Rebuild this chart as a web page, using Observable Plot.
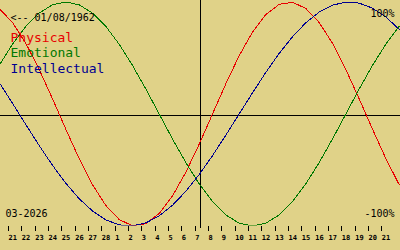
<!DOCTYPE html>
<html><head><meta charset="utf-8">
<script src="https://cdn.jsdelivr.net/npm/d3@7"></script>
<script src="https://cdn.jsdelivr.net/npm/@observablehq/plot@0.6"></script>
<style>html,body{margin:0;padding:0;background:#e0d288;}</style>
</head><body><div id="chart"></div>
<script>
// Days shown (Feb 20 .. Mar 22); the outer two only bleed past the frame edges
const dayLabels = ["20","21","22","23","24","25","26","27","28","1","2","3","4","5","6","7","8","9","10","11","12","13","14","15","16","17","18","19","20","21","22"];
const physical = [94.2,81.7,63.1,39.8,13.6,-13.6,-39.8,-63.1,-81.7,-94.2,-99.8,-97.9,-88.8,-73.1,-52.0,-27.0,0,27.0,52.0,73.1,88.8,97.9,99.8,94.2,81.7,63.1,39.8,13.6,-13.6,-39.8,-63.1];
const emotional = [43.4,62.3,78.2,90.1,97.5,100,97.5,90.1,78.2,62.3,43.4,22.3,0,-22.3,-43.4,-62.3,-78.2,-90.1,-97.5,-100,-97.5,-90.1,-78.2,-62.3,-43.4,-22.3,0,22.3,43.4,62.3,78.2];
const intellectual = [28.2,9.5,-9.5,-28.2,-45.8,-61.8,-75.6,-86.6,-94.5,-99.0,-99.9,-97.2,-91.0,-81.5,-69.0,-54.1,-37.2,-18.9,0,18.9,37.2,54.1,69.0,81.5,91.0,97.2,99.9,99.0,94.5,86.6,75.6];
const seriesNames = ["Physical","Emotional","Intellectual"];
const todayLabel = "7";
const birthText = "<-- 01/08/1962";
const monthText = "03-2026";
const topText = "100%";
const bottomText = "-100%";

const colors = {Physical:"#e80000", Emotional:"#007800", Intellectual:"#000090"};
const seriesValues = [physical, emotional, intellectual];
const rows = [];
seriesNames.forEach((name, s) => seriesValues[s].forEach((v, k) => rows.push({series: name, k, v})));
const tickIdx = dayLabels.map((d, k) => k).slice(1, dayLabels.length - 1);
const todayIdx = dayLabels.indexOf(todayLabel, 9);
const mono = "DejaVu Sans Mono";

const chart = Plot.plot({
  width: 400, height: 250,
  marginLeft: 0, marginRight: 0, marginTop: 1.5, marginBottom: 24.5,
  style: {background: "#e0d288", fontFamily: mono, color: "black"},
  x: {domain: [0.1, 30.1], axis: null},
  y: {domain: [-100, 100], axis: null},
  marks: [
    Plot.ruleY([0], {stroke: "black", strokeWidth: 1, dy: 1.5, shapeRendering: "crispEdges"}),
    Plot.ruleX([todayIdx], {stroke: "black", strokeWidth: 1, dx: 1.33, insetTop: -1.5, insetBottom: -2.5, shapeRendering: "crispEdges"}),
    Plot.axisX(tickIdx, {tickSize: 5, tickPadding: 4.5, tickFormat: k => dayLabels[k], fontSize: 7, fontWeight: "bold", textAnchor: "start", dx: -4, stroke: "black", label: null, shapeRendering: "crispEdges"}),
    Plot.line(rows, {x: "k", y: "v", z: "series", stroke: d => colors[d.series], strokeWidth: 1, shapeRendering: "crispEdges", clip: true}),
    Plot.text([birthText], {text: d => d, frameAnchor: "top-left", textAnchor: "start", lineAnchor: "bottom", dx: 10, dy: 18.5, fontSize: 10, fill: "black"}),
    ...seriesNames.map((name, i) => Plot.text([name], {text: d => d, frameAnchor: "top-left", textAnchor: "start", lineAnchor: "bottom", dx: 10, dy: 40 + i * 15.3, fontSize: 13, fill: colors[name]})),
    Plot.text([topText], {text: d => d, frameAnchor: "top-right", textAnchor: "end", lineAnchor: "bottom", dx: -6, dy: 14.5, fontSize: 10, fill: "black"}),
    Plot.text([bottomText], {text: d => d, frameAnchor: "bottom-right", textAnchor: "end", lineAnchor: "bottom", dx: -6, dy: -9, fontSize: 10, fill: "black"}),
    Plot.text([monthText], {text: d => d, frameAnchor: "bottom-left", textAnchor: "start", lineAnchor: "bottom", dx: 5, dy: -9, fontSize: 10, fill: "black"})
  ]
});
document.getElementById("chart").appendChild(chart);
</script>
</body></html>
